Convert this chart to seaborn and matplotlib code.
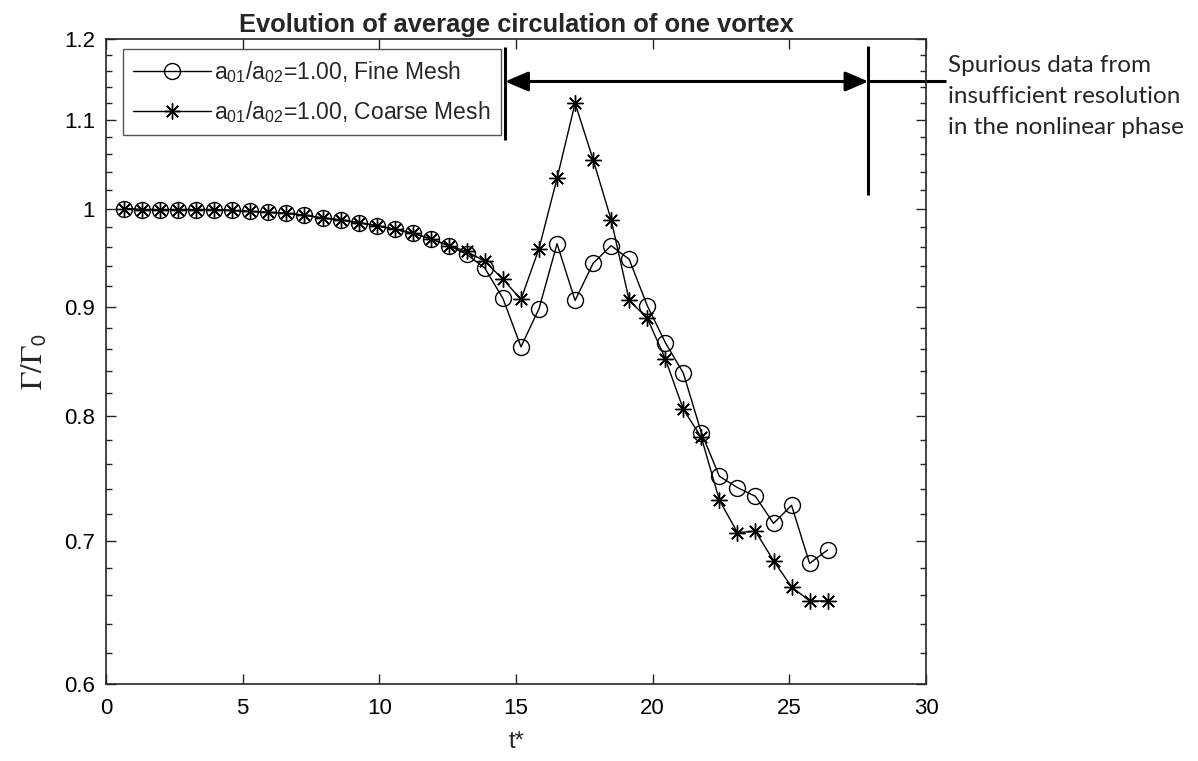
import numpy as np
import pandas as pd
import matplotlib
matplotlib.use('Agg')
import matplotlib.pyplot as plt
import seaborn as sns
from matplotlib.ticker import FixedLocator, FixedFormatter, NullFormatter

# ---- data ----
t_star = [0.66, 1.32, 1.98, 2.64, 3.30, 3.96, 4.62, 5.28, 5.94, 6.60,
          7.26, 7.92, 8.58, 9.24, 9.90, 10.56, 11.22, 11.88, 12.54, 13.20,
          13.86, 14.52, 15.18, 15.84, 16.50, 17.16, 17.82, 18.48, 19.14, 19.80,
          20.46, 21.12, 21.78, 22.44, 23.10, 23.76, 24.42, 25.08, 25.74, 26.40]
fine_mesh = [1.000, 0.999, 0.999, 0.999, 0.999, 0.999, 0.998, 0.997, 0.996, 0.995,
             0.993, 0.990, 0.988, 0.985, 0.982, 0.978, 0.974, 0.968, 0.961, 0.952,
             0.938, 0.908, 0.862, 0.898, 0.963, 0.906, 0.943, 0.961, 0.947, 0.901,
             0.866, 0.838, 0.786, 0.750, 0.741, 0.734, 0.713, 0.727, 0.683, 0.693]
coarse_mesh = [1.000, 0.999, 0.999, 0.999, 0.999, 0.999, 0.998, 0.997, 0.996, 0.995,
               0.993, 0.990, 0.988, 0.985, 0.982, 0.978, 0.974, 0.968, 0.961, 0.955,
               0.945, 0.927, 0.907, 0.958, 1.033, 1.120, 1.054, 0.988, 0.906, 0.889,
               0.851, 0.806, 0.782, 0.731, 0.706, 0.707, 0.685, 0.666, 0.656, 0.656]
labels = [r'a$_{\mathrm{01}}$/a$_{\mathrm{02}}$=1.00, Fine Mesh',
          r'a$_{\mathrm{01}}$/a$_{\mathrm{02}}$=1.00, Coarse Mesh']
y_ticks = [0.6, 0.7, 0.8, 0.9, 1.0, 1.1, 1.2]
y_tick_labels = ['0.6', '0.7', '0.8', '0.9', '1', '1.1', '1.2']
y_minor = [0.62, 0.64, 0.66, 0.68, 0.72, 0.74, 0.76, 0.78, 0.82, 0.84, 0.86, 0.88,
           0.92, 0.94, 0.96, 0.98, 1.02, 1.04, 1.06, 1.08, 1.12, 1.14, 1.16, 1.18]
x_ticks = [0, 5, 10, 15, 20, 25, 30]
title = 'Evolution of average circulation of one vortex'
note = 'Spurious data from\ninsufficient resolution\nin the nonlinear phase'
# annotation positions (data coords)
span_start, span_end, span_y = 14.60, 27.89, 1.1464
left_bar = (1.190, 1.0766)
right_bar = (1.191, 1.0152)
line_end_x = 30.73

sns.set_style('ticks')
plt.rcParams['font.family'] = ['Liberation Sans', 'DejaVu Sans']
plt.rcParams['mathtext.fontset'] = 'custom'
plt.rcParams['mathtext.rm'] = 'Liberation Sans'
plt.rcParams['mathtext.it'] = 'Liberation Sans:italic'
plt.rcParams['mathtext.bf'] = 'Liberation Sans:bold'

fig = plt.figure(figsize=(11.98, 7.61), dpi=100)
ax = fig.add_axes([0.0885, 0.1012, 0.6845, 0.8476])

star = (8, 2, 0)
sns.lineplot(x=t_star, y=fine_mesh, ax=ax, color='black', linewidth=1.0,
             marker='o', markersize=11.5, markerfacecolor='none',
             markeredgecolor='black', markeredgewidth=1.0, label=labels[0],
             errorbar=None)
sns.lineplot(x=t_star, y=coarse_mesh, ax=ax, color='black', linewidth=1.0,
             marker=star, markersize=11.5, markeredgecolor='black',
             markeredgewidth=1.0, label=labels[1], errorbar=None)

ax.set_yscale('log')
ax.set_xlim(0, 30)
ax.set_ylim(0.6, 1.2)
ax.yaxis.set_major_locator(FixedLocator(y_ticks))
ax.yaxis.set_major_formatter(FixedFormatter(y_tick_labels))
ax.yaxis.set_minor_locator(FixedLocator(y_minor))
ax.yaxis.set_minor_formatter(NullFormatter())
ax.set_xticks(x_ticks)
ax.set_xticklabels([str(v) for v in x_ticks])

axc = '#262626'
for s in ax.spines.values():
    s.set_color(axc)
    s.set_linewidth(1.2)
    s.set_visible(True)
ax.tick_params(axis='both', which='both', direction='in', top=True, right=True,
               colors=axc, labelcolor='black', labelsize=16)
ax.tick_params(which='major', length=7, width=1.0)
ax.tick_params(which='minor', length=4, width=1.0)
ax.tick_params(axis='x', pad=10)
ax.tick_params(axis='y', pad=8)

ax.set_xlabel('t*', fontsize=17, labelpad=9)
ax.set_ylabel(r'$\Gamma/\Gamma_{\mathsf{0}}$', fontsize=22, math_fontfamily='stix',
              labelpad=10)
ax.set_title(title, fontsize=18.4, fontweight='bold', pad=5)

leg = ax.legend(loc='upper left', bbox_to_anchor=(0.0204, 0.9845), borderaxespad=0,
                fontsize=16.5, handlelength=3.4, frameon=True, fancybox=False,
                edgecolor='#555555', framealpha=1, borderpad=0.45,
                labelspacing=0.6, handletextpad=0.15)
leg.get_frame().set_linewidth(1.0)

# annotations
ax.plot([span_start, span_start], list(left_bar), color='black', lw=2.2,
        clip_on=False, solid_capstyle='butt')
ax.plot([span_end, span_end], list(right_bar), color='black', lw=2.2,
        clip_on=False, solid_capstyle='butt')
ax.annotate('', xy=(span_start, span_y), xytext=(span_end, span_y),
            arrowprops=dict(arrowstyle='<|-|>,head_length=0.7,head_width=0.3',
                            color='black', lw=2.2, mutation_scale=20,
                            shrinkA=0, shrinkB=0),
            annotation_clip=False)
ax.plot([span_end, line_end_x], [span_y, span_y], color='black', lw=2.2,
        clip_on=False, solid_capstyle='butt')
ax.text(30.8, 1.180, note, fontsize=17.5, family=['Lato', 'DejaVu Sans'],
        va='top', ha='left', linespacing=1.6, transform=ax.transData)

fig.savefig('out.png', dpi=100)
